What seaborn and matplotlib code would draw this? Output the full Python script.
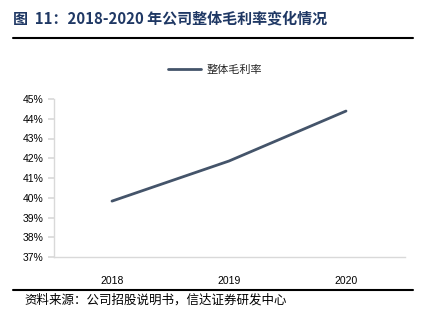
import matplotlib
matplotlib.use("Agg")
import matplotlib.pyplot as plt
import seaborn as sns
import pandas as pd
from matplotlib.lines import Line2D
from matplotlib.ticker import FuncFormatter

years = ["2018", "2019", "2020"]
margin = [39.83, 41.86, 44.39]
series_name = "整体毛利率"
title = "图  11：2018-2020 年公司整体毛利率变化情况"
source = "资料来源：公司招股说明书，信达证券研发中心"

sns.set_theme(style="white")
plt.rcParams['font.family'] = ['Noto Sans CJK SC', 'DejaVu Sans']

df = pd.DataFrame({"year": years, "value": margin})

W, H = 422, 324
fig = plt.figure(figsize=(W/100, H/100), dpi=100)
ax = fig.add_axes([53.5/W, 1-257/H, (404.5-53.5)/W, (257-99)/H])

sns.lineplot(data=df, x="year", y="value", ax=ax, color="#44546A", linewidth=2, label=series_name, sort=False)
ax.set_xlim(-0.5, 2.5)
ax.set_ylim(37, 45)
ax.set_yticks(range(37, 46))
ax.yaxis.set_major_formatter(FuncFormatter(lambda v, p: f"{int(v)}%"))
ax.set_xlabel("")
ax.set_ylabel("")
for s in ["top", "right"]:
    ax.spines[s].set_visible(False)
for s in ["left", "bottom"]:
    ax.spines[s].set_color("#D9D9D9")
    ax.spines[s].set_linewidth(1)
ax.tick_params(axis="y", left=True, length=4, color="#D9D9D9", labelsize=7.5, pad=3, labelcolor="#000000")
ax.tick_params(axis="x", bottom=False, labelsize=7.5, pad=8, labelcolor="#000000")
for lbl in ax.get_yticklabels() + ax.get_xticklabels():
    lbl.set_family(["Liberation Sans", "DejaVu Sans"])

leg = ax.legend(loc="center", bbox_to_anchor=(215/W, 1-70/H), bbox_transform=fig.transFigure,
                frameon=False, fontsize=8, handlelength=3.0, handletextpad=0.5)

fig.text(13/W, 1-18/H, title, fontsize=10.8, fontweight="bold", color="#1F3864",
         va="center", ha="left")
fig.add_artist(Line2D([13/W, 413/W], [1-38/H, 1-38/H], color="black", linewidth=1.5))
fig.add_artist(Line2D([13/W, 413/W], [1-290/H, 1-290/H], color="black", linewidth=1.5))
fig.text(24/W, 1-300/H, source, fontsize=9, style="italic", color="black", va="center", ha="left")

fig.savefig("out.png", dpi=100)
